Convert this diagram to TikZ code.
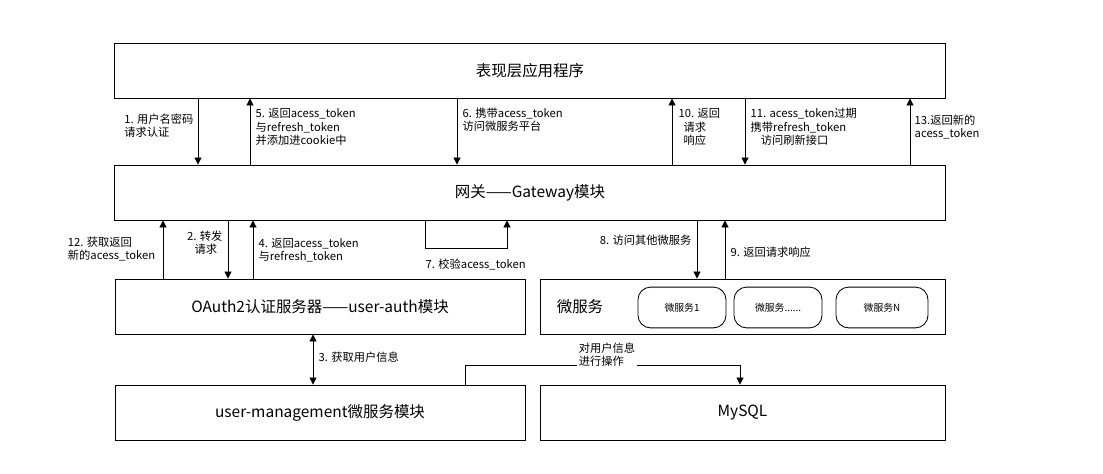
\documentclass[tikz,border=0pt]{standalone}
\usepackage{fontspec}
\setmainfont{Noto Sans CJK SC}
\usetikzlibrary{arrows.meta}

\begin{document}
\begin{tikzpicture}[x=0.025cm, y=-0.025cm,
  box/.style={draw, line width=0.6pt, inner sep=0pt, font=\fontsize{11}{13}\selectfont},
  sub/.style={draw, rounded corners=9pt, line width=0.6pt, minimum width=2.2cm, minimum height=1.02cm, font=\fontsize{7}{9}\selectfont},
  lbl/.style={font=\fontsize{8}{9.5}\selectfont, align=left, inner sep=1pt},
  arr/.style={-{Triangle[length=5pt,width=5pt]}, line width=0.6pt}]

\useasboundingbox (0,0) rectangle (1103,473);

% ---- boxes
\node[box, minimum width=20.75cm, minimum height=1.375cm] (app)  at (530,70.5)  {表现层应用程序};
\node[box, minimum width=20.75cm, minimum height=1.375cm] (gw)   at (530,192.5) {网关——Gateway模块};
\node[box, minimum width=10.25cm, minimum height=1.375cm] (auth) at (320,306.5) {OAuth2认证服务器——user-auth模块};
\node[box, minimum width=10.125cm, minimum height=1.375cm] (ms)  at (742.5,306.5) {};
\node[font=\fontsize{11}{13}\selectfont] (mslbl) at (580,306.5) {微服务};
\node[sub] (ms1) at (682,307.5) {微服务1};
\node[sub] (ms2) at (778,307.5) {微服务......};
\node[sub, minimum width=2.3cm] (msn) at (882,307.5) {微服务N};
\node[box, minimum width=10.25cm, minimum height=1.375cm] (um)  at (320,412.5) {user-management微服务模块};
\node[box, minimum width=10.125cm, minimum height=1.375cm] (db) at (742.5,412.5) {MySQL};

% ---- app <-> gateway
\draw[arr] (app.south -| 198,0) -- (gw.north -| 198,0);
\node[lbl, anchor=east] (l1) at (195,126) {1. 用户名密码\\请求认证};
\draw[arr] (gw.north -| 250,0) -- (app.south -| 250,0);
\node[lbl, anchor=west] (l5) at (254,127) {5. 返回acess\_token\\与refresh\_token\\并添加进cookie中};
\draw[arr] (app.south -| 457,0) -- (gw.north -| 457,0);
\node[lbl, anchor=west] (l6) at (461,120) {6. 携带acess\_token\\访问微服务平台};
\draw[arr] (gw.north -| 672,0) -- (app.south -| 672,0);
\node[lbl, anchor=west] (l10) at (677,127) {10. 返回\\\ \ 请求\\\ \ 响应};
\draw[arr] (app.south -| 745,0) -- (gw.north -| 745,0);
\node[lbl, anchor=west] (l11) at (749,127) {11. acess\_token过期\\携带refresh\_token\\\ \ \ \ 访问刷新接口};
\draw[arr] (gw.north -| 910,0) -- (app.south -| 910,0);
\node[lbl, anchor=west] (l13) at (913,127) {13.返回新的\\acess\_token};

% ---- gateway <-> auth
\draw[arr] (auth.north -| 163,0) -- (gw.south -| 163,0);
\node[lbl, anchor=east] (l12) at (157,249) {12. 获取返回\\新的acess\_token};
\draw[arr] (gw.south -| 228,0) -- (auth.north -| 228,0);
\node[lbl, anchor=east] (l2) at (224,243) {2. 转发\\\ \ \ 请求};
\draw[arr] (auth.north -| 253,0) -- (gw.south -| 253,0);
\node[lbl, anchor=west] (l4) at (257,250) {4. 返回acess\_token\\与refresh\_token};

% ---- check token loop
\coordinate (c1) at (425,248);
\coordinate (c2) at (507,248);
\draw[arr] (gw.south -| c1) -- (c1) -- (c2) -- (gw.south -| c2);
\node[lbl, anchor=west] (l7) at (424,265) {7. 校验acess\_token};

% ---- gateway <-> micro services
\draw[arr] (gw.south -| 697,0) -- (ms.north -| 697,0);
\node[lbl, anchor=east] (l8) at (693,240) {8. 访问其他微服务};
\draw[arr] (ms.north -| 725,0) -- (gw.south -| 725,0);
\node[lbl, anchor=west] (l9) at (729,252) {9. 返回请求响应};

% ---- auth <-> user-management
\draw[{Triangle[length=5pt,width=5pt]}-{Triangle[length=5pt,width=5pt]}, line width=0.6pt] (auth.south -| 313,0) -- (um.north -| 313,0);
\node[lbl, anchor=west] (l3) at (317,357) {3. 获取用户信息};

% ---- user-management -> MySQL
\coordinate (d1) at (465,365);
\coordinate (d2) at (740,365);
\draw[arr] (um.north -| d1) -- (d1) -- (d2) -- (db.north -| d2);
\node[lbl, fill=white] (lop) at (607,355) {对用户信息\\进行操作};

\end{tikzpicture}
\end{document}
